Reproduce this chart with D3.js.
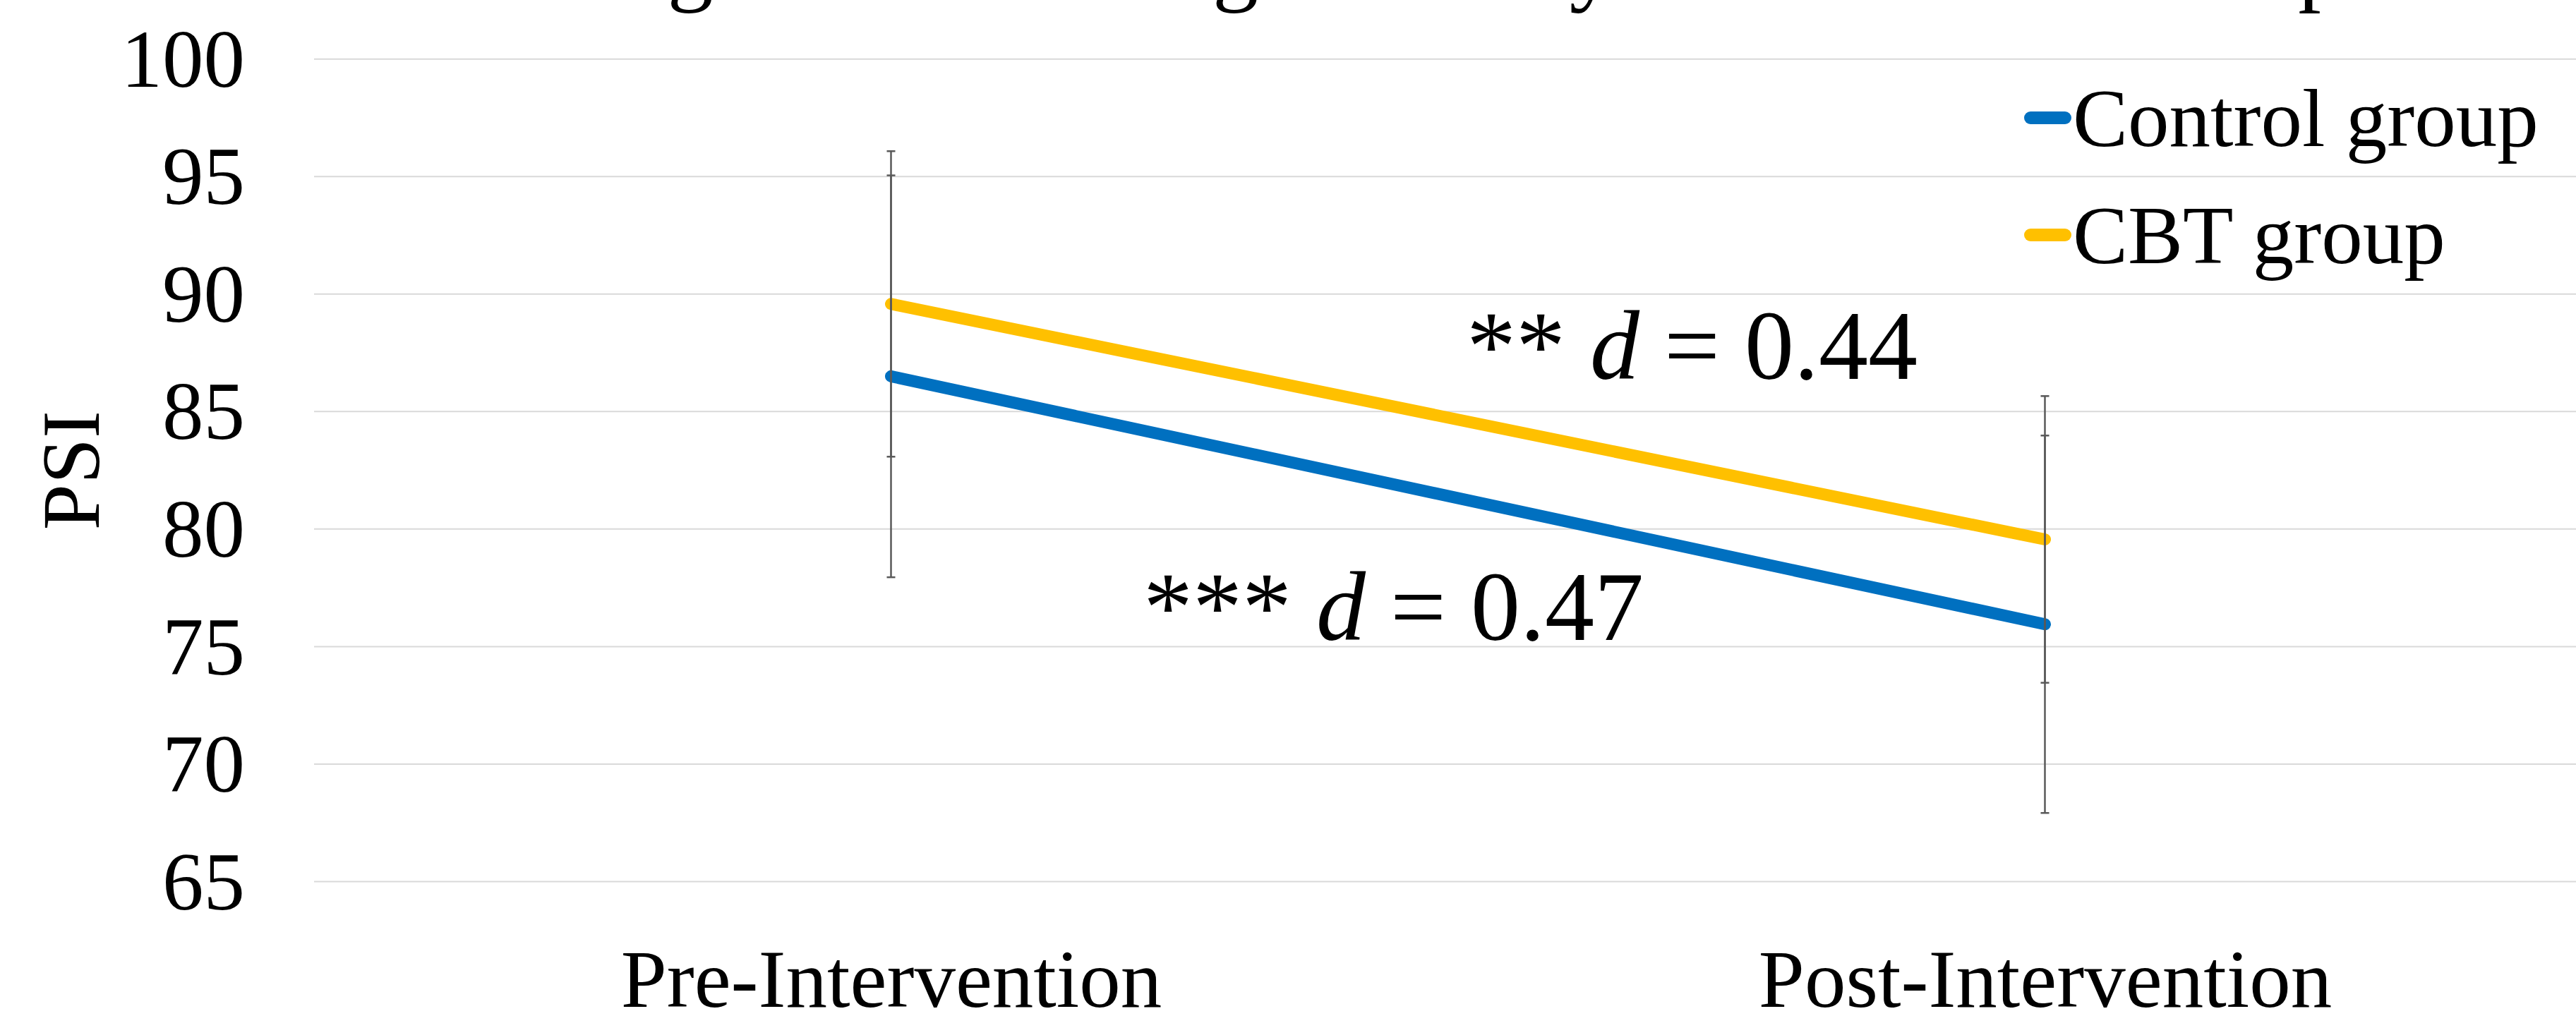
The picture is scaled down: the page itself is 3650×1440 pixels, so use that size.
<!DOCTYPE html>
<html>
<head>
<meta charset="utf-8">
<script src="https://cdn.jsdelivr.net/npm/d3@7"></script>
<style>
  html, body { margin: 0; padding: 0; background: #fff; overflow: hidden; }
  text { font-family: "Liberation Serif", "Times New Roman", serif; fill: #000; }
</style>
</head>
<body>
<svg id="chart" width="3650" height="1440"></svg>
<script>
// ---- data ----
const categories = ["Pre-Intervention", "Post-Intervention"];
const seriesNames = ["Control group", "CBT group"];
const controlMeans = [86.5, 75.95];
const controlErr = [8.55, 8.03];
const cbtMeans = [89.58, 79.56];
const cbtErr = [6.5, 6.1];
const yTicks = [65, 70, 75, 80, 85, 90, 95, 100];
const titleText = "Changes in Parenting Stress by Intervention Group";
const yLabel = "PSI";
const annotations = [
  { stars: "**", effect: "0.44" },
  { stars: "***", effect: "0.47" }
];

const series = [
  { name: seriesNames[0], means: controlMeans, err: controlErr, color: "#0070C0" },
  { name: seriesNames[1], means: cbtMeans, err: cbtErr, color: "#FFC000" }
];

const svg = d3.select("#chart");

const x = d3.scalePoint().domain(categories).range([445, 3715]).padding(0.5);
const y = d3.scaleLinear().domain([65, 100]).range([1249.5, 83.7]);

// title (mostly cut off above the view)
svg.append("text")
  .attr("x", 671).attr("y", -9)
  .attr("font-size", 130)
  .text(titleText);

// gridlines
svg.append("g").selectAll("line").data(yTicks).join("line")
  .attr("x1", 445).attr("x2", 3650)
  .attr("y1", d => y(d)).attr("y2", d => y(d))
  .attr("stroke", "#d9d9d9").attr("stroke-width", 2);

// y axis labels
const yAxis = d3.axisLeft(y).tickValues(yTicks).tickSize(0).tickPadding(0);
const gy = svg.append("g").attr("transform", "translate(347,0)").call(yAxis);
gy.select(".domain").remove();
gy.selectAll("text")
  .attr("font-size", 117)
  .attr("font-family", "Liberation Serif, Times New Roman, serif")
  .attr("fill", "#000")
  .attr("dy", "0.33em");

// y axis title
svg.append("text")
  .attr("transform", `translate(140,${(y(65) + y(100)) / 2}) rotate(-90)`)
  .attr("text-anchor", "middle")
  .attr("font-size", 117)
  .text(yLabel);

// x axis labels
const xAxis = d3.axisBottom(x).tickSize(0).tickPadding(0);
const gx = svg.append("g").attr("transform", "translate(0,1427)").call(xAxis);
gx.select(".domain").remove();
gx.selectAll("text")
  .attr("font-size", 117)
  .attr("font-family", "Liberation Serif, Times New Roman, serif")
  .attr("fill", "#000")
  .attr("dy", 0)
  .attr("y", 0);

// lines
const line = d3.line().x((d, i) => x(categories[i])).y(d => y(d));
svg.append("g").selectAll("path").data(series).join("path")
  .attr("d", s => line(s.means))
  .attr("fill", "none")
  .attr("stroke", s => s.color)
  .attr("stroke-width", 17)
  .attr("stroke-linecap", "round")
  .attr("stroke-linejoin", "round");

// error bars
const eb = svg.append("g").attr("stroke", "#595959").attr("stroke-width", 2.5);
series.forEach(s => {
  s.means.forEach((m, i) => {
    const cx = x(categories[i]);
    eb.append("line").attr("x1", cx).attr("x2", cx)
      .attr("y1", y(m + s.err[i])).attr("y2", y(m - s.err[i]));
    [m + s.err[i], m - s.err[i]].forEach(v => {
      eb.append("line").attr("x1", cx - 6).attr("x2", cx + 6)
        .attr("y1", y(v)).attr("y2", y(v));
    });
  });
});

// annotations
const annPos = [{ x: 2078, y: 537 }, { x: 1620, y: 907 }];
annotations.forEach((a, i) => {
  const t = svg.append("text")
    .attr("x", annPos[i].x).attr("y", annPos[i].y)
    .attr("font-size", 140)
    .attr("xml:space", "preserve");
  t.append("tspan").text(a.stars + " ");
  t.append("tspan").attr("font-style", "italic").text("d");
  t.append("tspan").text(" = " + a.effect);
});

// legend
const legend = svg.append("g");
series.forEach((s, i) => {
  const ly = 167 + i * 166;
  legend.append("line")
    .attr("x1", 2877).attr("x2", 2926)
    .attr("y1", ly).attr("y2", ly)
    .attr("stroke", s.color).attr("stroke-width", 18)
    .attr("stroke-linecap", "round");
  legend.append("text")
    .attr("x", 2937).attr("y", ly + 40)
    .attr("font-size", 117)
    .text(s.name);
});
</script>
</body>
</html>
